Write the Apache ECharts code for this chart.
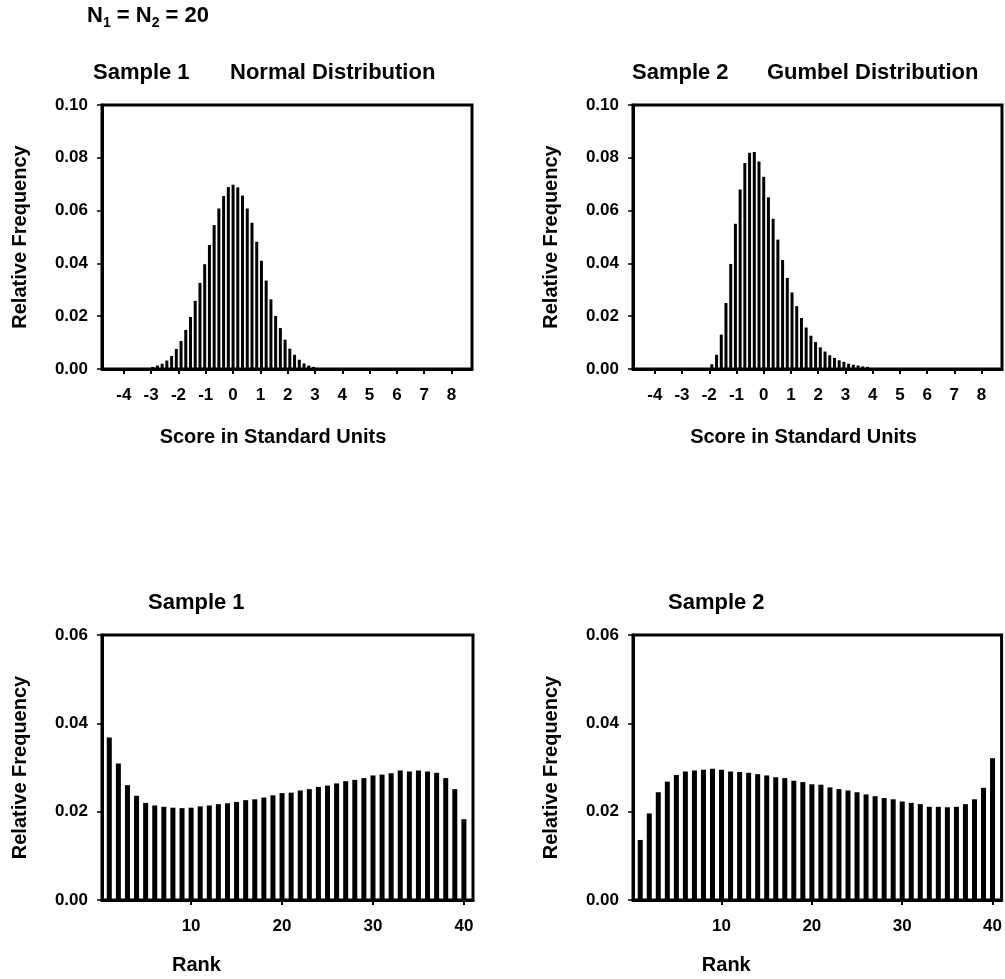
<!DOCTYPE html>
<html>
<head>
<meta charset="utf-8">
<script src="https://cdn.jsdelivr.net/npm/echarts@6/dist/echarts.min.js"></script>
<style>
html,body{margin:0;padding:0;background:#fff;}
#c{width:1005px;height:979px;}
</style>
</head>
<body>
<div id="c"></div>
<script>
// ---- data ----
const normalX = [-2.944,-2.771,-2.598,-2.425,-2.252,-2.078,-1.905,-1.732,-1.559,-1.386,-1.212,-1.039,-0.866,-0.693,-0.520,-0.346,-0.173,0,0.173,0.346,0.520,0.693,0.866,1.039,1.212,1.386,1.559,1.732,1.905,2.078,2.252,2.425,2.598,2.771,2.944];
const normalY = [0.0008,0.0013,0.0020,0.0032,0.0049,0.0076,0.0106,0.0148,0.0197,0.0258,0.0326,0.0397,0.0470,0.0545,0.0608,0.0655,0.0689,0.0698,0.0688,0.0657,0.0608,0.0554,0.0482,0.0410,0.0335,0.0264,0.0201,0.0155,0.0111,0.0077,0.0054,0.0035,0.0021,0.0013,0.0008];
const gumbelX = [-1.905,-1.732,-1.559,-1.386,-1.212,-1.039,-0.866,-0.693,-0.520,-0.346,-0.173,0,0.173,0.346,0.520,0.693,0.866,1.039,1.212,1.386,1.559,1.732,1.905,2.078,2.252,2.425,2.598,2.771,2.944,3.118,3.291,3.464,3.637,3.810];
const gumbelY = [0.0018,0.0054,0.0130,0.0250,0.0398,0.0550,0.0680,0.0780,0.0819,0.0822,0.0786,0.0728,0.0650,0.0569,0.0490,0.0413,0.0345,0.0290,0.0238,0.0193,0.0157,0.0126,0.0102,0.0082,0.0066,0.0052,0.0042,0.0033,0.0027,0.0020,0.0016,0.0013,0.0010,0.0008];
const ranks = [1,2,3,4,5,6,7,8,9,10,11,12,13,14,15,16,17,18,19,20,21,22,23,24,25,26,27,28,29,30,31,32,33,34,35,36,37,38,39,40];
const rank1Y = [0.0368,0.0309,0.0260,0.0236,0.0220,0.0214,0.0211,0.0209,0.0208,0.0209,0.0212,0.0214,0.0217,0.0219,0.0222,0.0226,0.0228,0.0232,0.0237,0.0242,0.0243,0.0248,0.0251,0.0256,0.0259,0.0264,0.0269,0.0272,0.0276,0.0282,0.0284,0.0287,0.0293,0.0291,0.0293,0.0291,0.0288,0.0276,0.0251,0.0183];
const rank2Y = [0.0136,0.0196,0.0244,0.0268,0.0283,0.0291,0.0293,0.0295,0.0297,0.0295,0.0291,0.0290,0.0288,0.0285,0.0282,0.0278,0.0276,0.0270,0.0267,0.0262,0.0261,0.0255,0.0251,0.0248,0.0244,0.0239,0.0235,0.0231,0.0228,0.0223,0.0220,0.0217,0.0211,0.0211,0.0210,0.0211,0.0217,0.0228,0.0254,0.0321];
const scoreTicks = [-4,-3,-2,-1,0,1,2,3,4,5,6,7,8];
const rankTicks = [10,20,30,40];
const panelTitles = [['Sample 1','Normal Distribution'],['Sample 2','Gumbel Distribution'],['Sample 1',''],['Sample 2','']];
const yName = 'Relative Frequency';
const xNames = ['Score in Standard Units','Score in Standard Units','Rank','Rank'];

// ---- chart ----
const FF = '"Liberation Sans", Arial, sans-serif';
const chart = echarts.init(document.getElementById('c'), null, {renderer:'canvas'});
const grids = [
  {left:102, top:105, width:370, height:264},
  {left:633, top:105, width:369, height:264},
  {left:102, top:635, width:371, height:265},
  {left:633, top:635, width:370, height:265}
];
const lbl = {color:'#000', fontFamily:FF, fontWeight:'bold', fontSize:17};
const nameStyle = {color:'#000', fontFamily:FF, fontWeight:'bold', fontSize:20};
function xAxis(i){
  const top = i < 2;
  return {
    type:'value', gridIndex:i,
    min: top ? -4.8 : 0.2, max: top ? 8.75 : 41,
    name: xNames[i], nameLocation:'middle', nameGap: top ? 58 : 55,
    nameTextStyle:Object.assign({padding: top ? [0,28,0,0] : [0,182,0,0]}, nameStyle),
    axisLine:{show:true, onZero:false, lineStyle:{color:'#000', width:3}},
    axisTick:{show:true, length:5, lineStyle:{color:'#000', width:2}, customValues: top ? scoreTicks : rankTicks},
    axisLabel:Object.assign({margin:18, customValues: top ? scoreTicks : rankTicks}, lbl),
    splitLine:{show:false}
  };
}
function yAxis(i){
  const top = i < 2;
  return {
    type:'value', gridIndex:i, min:0, max: top ? 0.10 : 0.06, interval:0.02,
    name: yName, nameLocation:'middle', nameGap: 72, nameRotate:90,
    nameTextStyle:nameStyle,
    axisLine:{show:true, onZero:false, lineStyle:{color:'#000', width:3}},
    axisTick:{show:true, length:5, lineStyle:{color:'#000', width:1.5}},
    axisLabel:Object.assign({margin:14, formatter:v=>v.toFixed(2)}, lbl),
    splitLine:{show:false}
  };
}
function pairs(xs, ys){ return xs.map((x,k)=>[x, ys[k]]); }
const series = [
  {type:'bar', xAxisIndex:0, yAxisIndex:0, data:pairs(normalX, normalY), barWidth:3},
  {type:'bar', xAxisIndex:1, yAxisIndex:1, data:pairs(gumbelX, gumbelY), barWidth:3},
  {type:'bar', xAxisIndex:2, yAxisIndex:2, data:pairs(ranks, rank1Y), barWidth:5},
  {type:'bar', xAxisIndex:3, yAxisIndex:3, data:pairs(ranks, rank2Y), barWidth:5}
].map(s=>Object.assign(s,{itemStyle:{color:'#000'}, silent:true, animation:false}));

const tStyle = {color:'#000', fontFamily:FF, fontWeight:'bold', fontSize:22};
const titles = [
  {left:87, top:2, text:'{n|N}{s|1}{n| = N}{s|2}{n| = 20}',
   textStyle:{rich:{n:{color:'#000', fontFamily:FF, fontWeight:'bold', fontSize:22, lineHeight:28, verticalAlign:'middle'},
                    s:{color:'#000', fontFamily:FF, fontWeight:'bold', fontSize:14, lineHeight:28, verticalAlign:'bottom', padding:[12,0,0,0]}}}},
  {left:93, top:62, text:panelTitles[0][0], textStyle:tStyle},
  {left:230, top:62, text:panelTitles[0][1], textStyle:tStyle},
  {left:632, top:62, text:panelTitles[1][0], textStyle:tStyle},
  {left:767, top:62, text:panelTitles[1][1], textStyle:tStyle},
  {left:148, top:592, text:panelTitles[2][0], textStyle:tStyle},
  {left:668, top:592, text:panelTitles[3][0], textStyle:tStyle}
].map(t=>Object.assign({padding:0}, t));

chart.setOption({
  animation:false,
  backgroundColor:'#fff',
  title: titles,
  grid: grids.map(g=>Object.assign({show:true, borderColor:'#000', borderWidth:3, backgroundColor:'transparent', containLabel:false}, g)),
  xAxis:[0,1,2,3].map(xAxis),
  yAxis:[0,1,2,3].map(yAxis),
  series: series
});
</script>
</body>
</html>
